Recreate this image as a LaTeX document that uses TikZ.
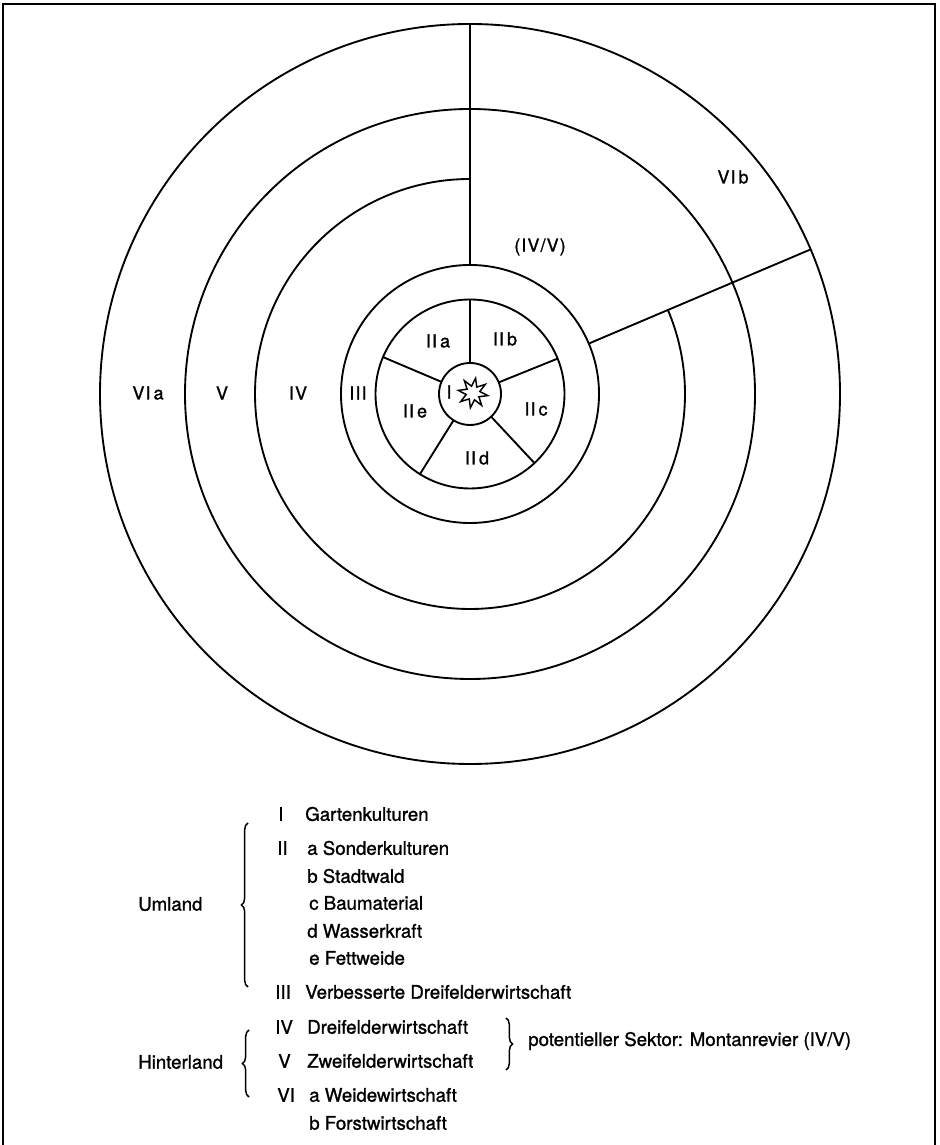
\documentclass[tikz,border=0pt]{standalone}
\usepackage{fontspec}
\setmainfont[FakeBold=1.2]{TeX Gyre Heros}
\newfontfamily\lblfont[LetterSpace=6,FakeBold=1.2]{TeX Gyre Heros}
\usetikzlibrary{calc,decorations.pathreplacing}
\begin{document}
\begin{tikzpicture}[x=0.75pt,y=0.75pt,
  ring/.style={line width=1.4pt},
  lbl/.style={font=\lblfont\fontsize{13.5}{16}\selectfont, inner sep=0pt},
  leg/.style={font=\fontsize{14}{16}\selectfont, anchor=west, inner sep=0pt},
  brc/.style={decorate, decoration={brace, amplitude=5pt}, line width=1.1pt}]
\useasboundingbox (0,0) rectangle (939,1145);
% frame
\draw[line width=2.2pt] (3,0) -- (3,1141) -- (935,1141) -- (935,0);
% circles
\coordinate (C) at (470,751);
\foreach \r in {370,285,129,94.5,31} \draw[ring] (C) circle[radius=\r];
\draw[ring] ($(C)+(90:215)$) arc[start angle=90, end angle=383, radius=215];
\draw[ring] ($(C)+(90:129)$) -- ($(C)+(90:370)$);
\draw[ring] ($(C)+(23:129)$) -- ($(C)+(23:370)$);
\foreach \a in {90,22,-47,-122,157} \draw[ring] ($(C)+(\a:31)$) -- ($(C)+(\a:94.5)$);
% star
\draw[line width=1.1pt, shift={(473,752)}] (80:15)
  \foreach \i [evaluate=\i as \rr using {mod(\i,2)==0 ? 15 : 7}] in {1,...,15} { -- ({80+\i*22.5}:\rr) } -- cycle;
% ring labels
\node[lbl] (lVIa) at (148,752) {VI\,a};
\node[lbl] (lV) at (222,752) {V};
\node[lbl] (lIV) at (298,752) {IV};
\node[lbl] (lIII) at (358,752) {III};
\node[lbl] (lI) at (449,753) {I};
\node[lbl] (lIIa) at (438,804) {II\,a};
\node[lbl] (lIIb) at (505,806) {II\,b};
\node[lbl] (lIIc) at (536,736) {II\,c};
\node[lbl] (lIId) at (477,687) {II\,d};
\node[lbl] (lIIe) at (415,734) {II\,e};
\node[lbl] (lVIb) at (733,968) {VI\,b};
\node[lbl] (lIVV) at (540,898) {(IV/V)};
% legend
\node[leg] (gI) at (278,331) {I};
\node[leg] (tI) at (305,331) {Gartenkulturen};
\node[leg] (gII) at (277,297) {II};
\node[leg] (tIIa) at (307,297) {a Sonderkulturen};
\node[leg] (tIIb) at (307,269) {b Stadtwald};
\node[leg] (tIIc) at (309,242) {c Baumaterial};
\node[leg] (tIId) at (307,214) {d Wasserkraft};
\node[leg] (tIIe) at (309,187) {e Fettweide};
\node[leg] (gIII) at (275,153) {III};
\node[leg] (tIII) at (305,153) {Verbesserte Dreifelderwirtschaft};
\node[leg] (gIV) at (275,118) {IV};
\node[leg] (tIV) at (307,118) {Dreifelderwirtschaft};
\node[leg] (gV) at (278,84) {V};
\node[leg] (tV) at (307,84) {Zweifelderwirtschaft};
\node[leg] (gVI) at (277,50) {VI};
\node[leg] (tVIa) at (309,50) {a Weidewirtschaft};
\node[leg] (tVIb) at (309,22) {b Forstwirtschaft};
\node[leg] (um) at (138,241) {Umland};
\node[leg] (hi) at (138,83) {Hinterland};
\node[leg] (pot) at (528,104) {potentieller Sektor: Montanrevier (IV/V)};
% braces
\coordinate (ub1) at (248,158); \coordinate (ub2) at (248,322);
\coordinate (hb1) at (249,48); \coordinate (hb2) at (249,115);
\coordinate (rb1) at (506,127); \coordinate (rb2) at (506,75);
\draw[brc] (ub1) -- (ub2);
\draw[brc] (hb1) -- (hb2);
\draw[brc] (rb1) -- (rb2);
\end{tikzpicture}
\end{document}
